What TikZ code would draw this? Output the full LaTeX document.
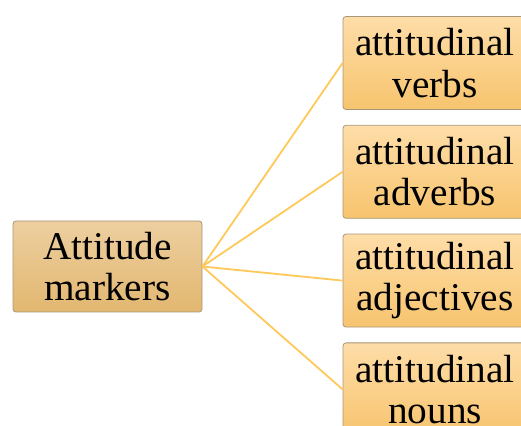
\documentclass[tikz,border=0pt]{standalone}
\usepackage{fontspec}
\setmainfont{Liberation Serif}
\usepackage{tikz}
\usetikzlibrary{positioning}
\usepackage{xcolor}
\definecolor{markertop}{HTML}{EDCFA0}
\definecolor{markerbot}{HTML}{E2B770}
\definecolor{leaftop}{HTML}{FEDDA8}
\definecolor{leafbot}{HTML}{F7C46E}
\definecolor{linkorange}{HTML}{FFC95A}
\definecolor{boxedge}{HTML}{A89679}
\tikzset{
  markerbox/.style={draw=boxedge, line width=0.8pt, top color=markertop,
                    bottom color=markerbot, rounded corners=3pt, inner sep=0pt,
                    minimum width=189pt, minimum height=91pt, align=center,
                    font=\fontsize{39.3pt}{41.5pt}\selectfont},
  leafbox/.style={markerbox, top color=leaftop, bottom color=leafbot,
                  minimum width=184pt, minimum height=93pt},
  link/.style={draw=linkorange, line width=1.8pt},
}
\begin{document}
\begin{tikzpicture}
\useasboundingbox (0,0) rectangle (521pt,425pt);
\node[markerbox] (markers) at (107.5pt,158.5pt) {Attitude\\markers};

\node[leafbox] (verbs) at (435pt,362pt) {attitudinal\\verbs};
\node[leafbox, below=15pt of verbs] (adverbs) {attitudinal\\adverbs};
\node[leafbox, below=15pt of adverbs] (adjectives) {attitudinal\\adjectives};
\node[leafbox, below=15pt of adjectives] (nouns) {attitudinal\\nouns};

\foreach \leaf in {verbs,adverbs,adjectives,nouns}
  \draw[link] (markers.east) -- (\leaf.west);
\end{tikzpicture}
\end{document}
